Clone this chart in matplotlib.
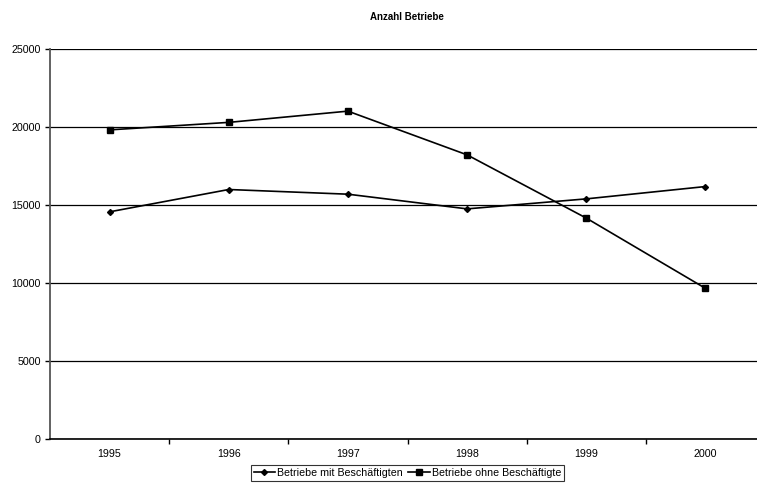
import numpy as np
import matplotlib.pyplot as plt

plt.rcParams['font.family'] = ['Liberation Sans', 'DejaVu Sans']

jahre = ['1995', '1996', '1997', '1998', '1999', '2000']
mit_beschaeftigten = [14570, 16000, 15700, 14760, 15400, 16190]
ohne_beschaeftigte = [19820, 20300, 21020, 18220, 14170, 9670]

fig = plt.figure(figsize=(7.57, 4.83), dpi=100)
ax = fig.add_axes([50 / 757, 1 - 439.3 / 483, 715 / 757, 390.3 / 483])

x = np.arange(len(jahre))
ax.plot(x, mit_beschaeftigten, color='black', lw=1.2, marker='D', ms=3,
        label='Betriebe mit Beschäftigten')
ax.plot(x, ohne_beschaeftigte, color='black', lw=1.2, marker='s', ms=3.8,
        label='Betriebe ohne Beschäftigte')

ax.set_xlim(-0.5, len(jahre) - 0.5)
ax.set_ylim(0, 25000)
ax.set_yticks(np.arange(0, 25001, 5000))
ax.yaxis.grid(True, color='black', lw=0.9)
ax.set_axisbelow(True)

# Jahreslabels in der Mitte, Teilstriche zwischen den Kategorien
ax.set_xticks(x)
ax.set_xticklabels(jahre)
ax.tick_params(axis='x', length=0, labelsize=7.7, pad=7)
ax.set_xticks(np.arange(0.5, len(jahre) - 0.5), minor=True)
ax.tick_params(axis='x', which='minor', length=3.5, width=1, direction='out')
ax.tick_params(axis='y', length=3.5, width=1, labelsize=7.7, pad=3)

for s in ['top', 'right']:
    ax.spines[s].set_visible(False)
ax.spines['left'].set_color('#555555')
ax.spines['left'].set_linewidth(1.3)
ax.spines['bottom'].set_linewidth(1.2)

fig.text(407 / 757, 1 - 17 / 483, 'Anzahl Betriebe', ha='center', va='center',
         fontsize=7, fontweight='bold')

leg = ax.legend(loc='center', bbox_to_anchor=(0.5, -0.086), ncol=2,
                fontsize=7.7, frameon=True, fancybox=False, handlelength=2.0,
                handletextpad=0.2, columnspacing=0.5, borderpad=0.25)
leg.get_frame().set_edgecolor('black')
leg.get_frame().set_linewidth(0.8)

fig.savefig('out.png', dpi=100)
